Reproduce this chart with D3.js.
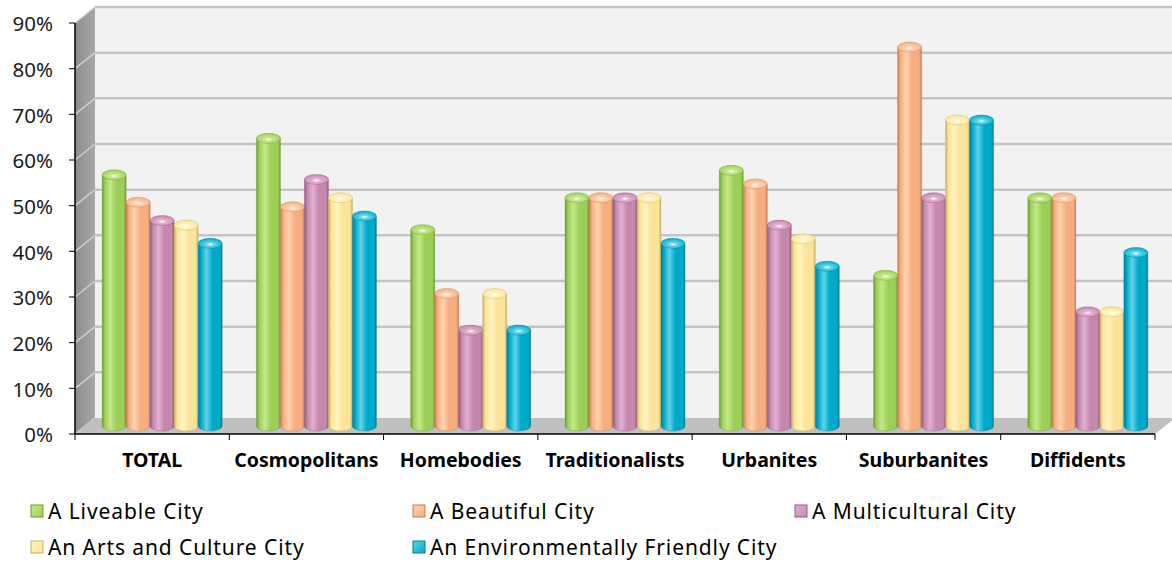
<!DOCTYPE html>
<html>
<head>
<meta charset="utf-8">
<script src="https://cdnjs.cloudflare.com/ajax/libs/d3/7.8.5/d3.min.js"></script>
<style>
  body { margin: 0; background: #fff; }
  svg { display: block; font-family: "Noto Sans", "Open Sans", sans-serif; }
</style>
</head>
<body>
<div class="chart"></div>
<script>
var categories = ["TOTAL", "Cosmopolitans", "Homebodies", "Traditionalists", "Urbanites", "Suburbanites", "Diffidents"];
var seriesNames = ["A Liveable City", "A Beautiful City", "A Multicultural City", "An Arts and Culture City", "An Environmentally Friendly City"];
var liveable      = [0.55, 0.63, 0.43, 0.50, 0.56, 0.33, 0.50];
var beautiful     = [0.49, 0.48, 0.29, 0.50, 0.53, 0.83, 0.50];
var multicultural = [0.45, 0.54, 0.21, 0.50, 0.44, 0.50, 0.25];
var artsCulture   = [0.44, 0.50, 0.29, 0.50, 0.41, 0.67, 0.25];
var environment   = [0.40, 0.46, 0.21, 0.40, 0.35, 0.67, 0.38];
var yTicks = [0, 0.1, 0.2, 0.3, 0.4, 0.5, 0.6, 0.7, 0.8, 0.9];

var seriesValues = [liveable, beautiful, multicultural, artsCulture, environment];

// colours: [dark edge, highlight, base]
var palette = [
    ["#6f9a32", "#c4e88a", "#9ccf58"],
    ["#c67d50", "#ffd2b0", "#f6ae80"],
    ["#92587e", "#e2b0d0", "#c488ad"],
    ["#c8b060", "#fff4c0", "#fbe39a"],
    ["#007e98", "#5fd4ea", "#00a9c8"]
];

var width = 1172,
    height = 565,
    left = 75,
    right = 1155,
    top0 = 23,
    bottom = 434,
    depthX = 20,
    depthY = -16,
    barW = 24,
    ry = 5;

var svg = d3.select(".chart").append("svg")
    .attr("width", width)
    .attr("height", height);

var defs = svg.append("defs");

var x = d3.scaleBand().domain(categories).range([left, right]);
var inner = d3.scaleBand().domain(d3.range(seriesNames.length)).range([0, barW * seriesNames.length]);
var y = d3.scaleLinear().domain([0, 0.9]).range([bottom, top0]);

// gradients for the cylinders
palette.forEach(function(c, i) {
    var g = defs.append("linearGradient").attr("id", "body" + i)
        .attr("x1", "0").attr("x2", "1").attr("y1", "0").attr("y2", "0");
    g.append("stop").attr("offset", "0").attr("stop-color", c[0]);
    g.append("stop").attr("offset", "0.12").attr("stop-color", c[2]);
    g.append("stop").attr("offset", "0.35").attr("stop-color", c[1]);
    g.append("stop").attr("offset", "0.6").attr("stop-color", c[2]);
    g.append("stop").attr("offset", "0.9").attr("stop-color", c[2]);
    g.append("stop").attr("offset", "1").attr("stop-color", c[0]);

    var t = defs.append("radialGradient").attr("id", "top" + i)
        .attr("cx", "0.5").attr("cy", "0.6").attr("r", "0.6");
    t.append("stop").attr("offset", "0").attr("stop-color", "#ffffff");
    t.append("stop").attr("offset", "0.3").attr("stop-color", c[1]);
    t.append("stop").attr("offset", "1").attr("stop-color", c[2]);

    var m = defs.append("linearGradient").attr("id", "mark" + i)
        .attr("x1", "0").attr("x2", "1").attr("y1", "0").attr("y2", "1");
    m.append("stop").attr("offset", "0").attr("stop-color", c[1]);
    m.append("stop").attr("offset", "1").attr("stop-color", c[2]);
});

var sideGrad = defs.append("linearGradient").attr("id", "side")
    .attr("x1", "0").attr("x2", "1").attr("y1", "0").attr("y2", "0");
sideGrad.append("stop").attr("offset", "0").attr("stop-color", "#8c8c8c");
sideGrad.append("stop").attr("offset", "1").attr("stop-color", "#a8a8a8");

// back wall
svg.append("rect")
    .attr("x", left + depthX)
    .attr("y", y(0.9) + depthY)
    .attr("width", width - left - depthX)
    .attr("height", y(0) - y(0.9))
    .style("fill", "#f2f2f2");

// side wall
svg.append("path")
    .attr("d", "M" + left + "," + y(0.9) + "L" + (left + depthX) + "," + (y(0.9) + depthY) +
        "L" + (left + depthX) + "," + (y(0) + depthY) + "L" + left + "," + y(0) + "Z")
    .style("fill", "url(#side)");

// gridlines on back wall and side wall
yTicks.forEach(function(t) {
    if (t > 0) {
        svg.append("line")
            .attr("x1", left + depthX).attr("x2", width)
            .attr("y1", y(t) + depthY).attr("y2", y(t) + depthY)
            .style("stroke", "#c4c4c4").style("stroke-width", 2.5);
    }
    svg.append("line")
        .attr("x1", left).attr("x2", left + depthX)
        .attr("y1", y(t)).attr("y2", y(t) + depthY)
        .style("stroke", "#cfcfcf").style("stroke-width", 1.5);
});

// floor
svg.append("path")
    .attr("d", "M" + left + "," + y(0) + "L" + (left + depthX) + "," + (y(0) + depthY) +
        "L" + (right + depthX) + "," + (y(0) + depthY) + "L" + right + "," + y(0) + "Z")
    .style("fill", "#c0c0c0");

// bars as cylinders
var groupOffset = (x.bandwidth() - barW * seriesNames.length) / 2 + depthX / 2;

categories.forEach(function(cat, ci) {
    seriesValues.forEach(function(vals, si) {
        var x0 = x(cat) + groupOffset + inner(si),
            w = inner.bandwidth(),
            yTop = y(vals[ci]) + depthY / 2,
            yBot = y(0) + depthY / 2,
            c = palette[si];
        svg.append("path")
            .attr("d", "M" + x0 + "," + yTop + "L" + x0 + "," + yBot +
                "A" + (w / 2) + "," + ry + " 0 0 0 " + (x0 + w) + "," + yBot +
                "L" + (x0 + w) + "," + yTop + "Z")
            .style("fill", "url(#body" + si + ")")
            .style("stroke", c[0]).style("stroke-width", 0.6).style("stroke-opacity", 0.6);
        svg.append("ellipse")
            .attr("cx", x0 + w / 2).attr("cy", yTop)
            .attr("rx", w / 2).attr("ry", ry)
            .style("fill", "url(#top" + si + ")")
            .style("stroke", c[0]).style("stroke-width", 0.6).style("stroke-opacity", 0.6);
    });
});

// value axis
svg.append("line")
    .attr("x1", left).attr("x2", left)
    .attr("y1", y(0.9)).attr("y2", y(0))
    .style("stroke", "#000").style("stroke-width", 1.5);

yTicks.forEach(function(t) {
    svg.append("line")
        .attr("x1", left - 6).attr("x2", left)
        .attr("y1", y(t)).attr("y2", y(t))
        .style("stroke", "#000");
    svg.append("text")
        .attr("x", 53).attr("y", y(t) + 1)
        .attr("dy", "0.35em")
        .attr("text-anchor", "end")
        .style("font-size", "20.5px")
        .style("fill", "#1a1a1a")
        .text(d3.format(".0%")(t));
});

// category axis
svg.append("line")
    .attr("x1", left).attr("x2", right)
    .attr("y1", y(0)).attr("y2", y(0))
    .style("stroke", "#000").style("stroke-width", 1.5);

x.domain().concat([null]).forEach(function(cat, i) {
    var xp = left + i * x.bandwidth();
    svg.append("line")
        .attr("x1", xp).attr("x2", xp)
        .attr("y1", y(0)).attr("y2", y(0) + 6)
        .style("stroke", "#000");
});

categories.forEach(function(cat) {
    svg.append("text")
        .attr("x", x(cat) + x.bandwidth() / 2)
        .attr("y", 467)
        .attr("text-anchor", "middle")
        .style("font-size", "19.5px")
        .style("font-weight", "bold")
        .text(cat);
});

// legend
var legendPos = [[31, 505], [413, 505], [795, 505], [31, 541], [413, 541]];
seriesNames.forEach(function(name, i) {
    var p = legendPos[i];
    svg.append("rect")
        .attr("x", p[0]).attr("y", p[1])
        .attr("width", 12).attr("height", 12)
        .style("fill", "url(#mark" + i + ")")
        .style("stroke", palette[i][0]).style("stroke-width", 1);
    svg.append("text")
        .attr("x", p[0] + 17).attr("y", p[1] + 7)
        .attr("dy", "0.35em")
        .style("font-size", "21px")
        .style("letter-spacing", "0.9px")
        .text(name);
});
</script>
</body>
</html>
